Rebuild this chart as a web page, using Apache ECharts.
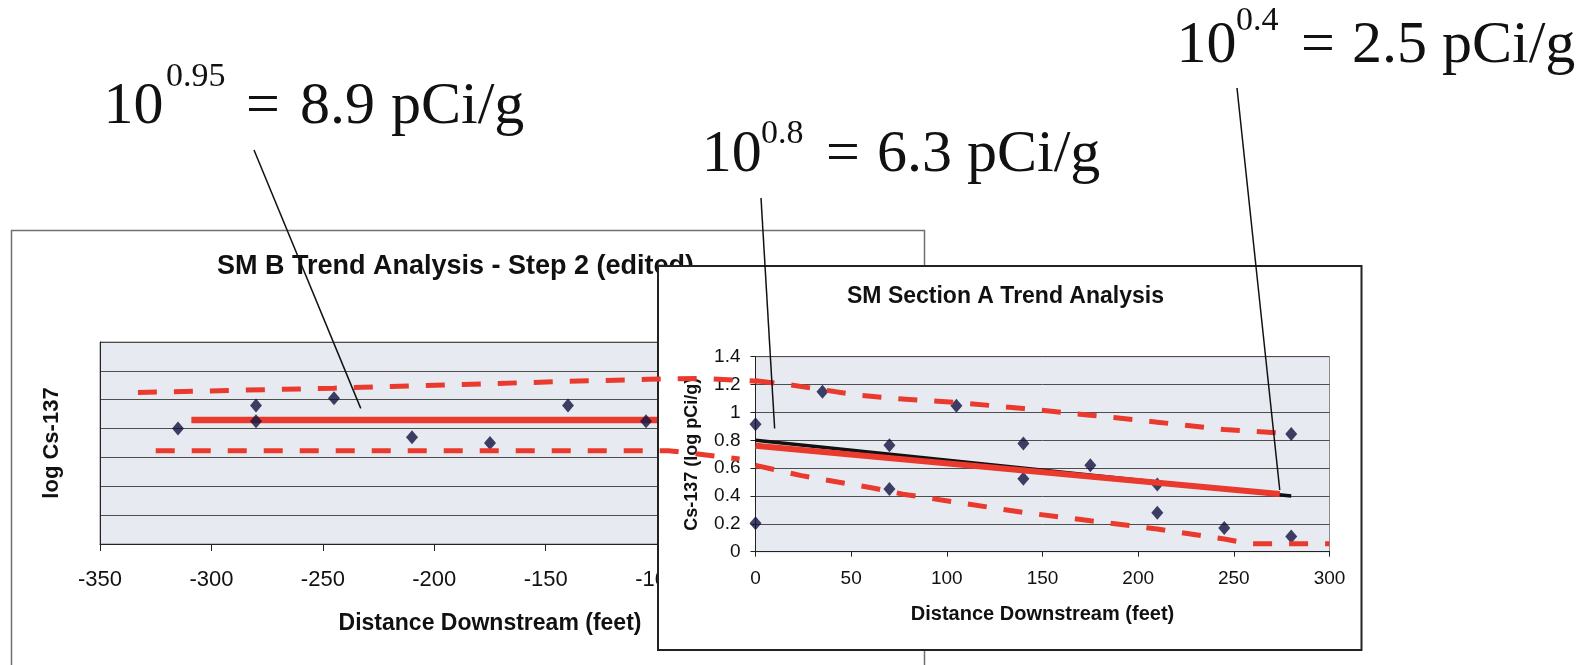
<!DOCTYPE html>
<html><head><meta charset="utf-8">
<script src="https://cdn.jsdelivr.net/npm/echarts@6/dist/echarts.min.js"></script>
<style>html,body{margin:0;padding:0;background:#fff}#c{width:1595px;height:665px}</style>
</head><body><div id="c"></div>
<script>
// ---------- data ----------
const leftTitle = 'SM B Trend Analysis - Step 2 (edited)';
const rightTitle = 'SM Section A Trend Analysis';
const xTitle = 'Distance Downstream (feet)';
const leftYTitle = 'log Cs-137';
const rightYTitle = 'Cs-137 (log pCi/g)';

// SM B (left chart)
const leftX = [-315, -280, -280, -245, -210, -175, -140, -105];
const leftY = [0.80, 0.96, 0.85, 1.01, 0.74, 0.70, 0.96, 0.85];
const leftMeanX = [-309, -80];
const leftMeanY = [0.86, 0.86];
const leftUpperX = [-333, -245, -140, -104, -81, -55];
const leftUpperY = [1.05, 1.08, 1.127, 1.141, 1.148, 1.128];
const leftLowerX = [-325, -95, -63];
const leftLowerY = [0.647, 0.647, 0.59];

// SM Section A (right chart)
const rightX = [0, 0, 35, 70, 70, 105, 140, 140, 175, 210, 210, 245, 280, 280];
const rightY = [0.915, 0.205, 1.148, 0.764, 0.45, 1.047, 0.776, 0.524, 0.62, 0.483, 0.279, 0.17, 0.845, 0.11];
const fitX = [0, 280];
const fitY = [0.80, 0.40];
const trendX = [0, 274];
const trendY = [0.76, 0.415];
const upperX = [0, 17, 35, 53, 73, 105, 140, 175, 210, 245, 258, 280];
const upperY = [1.227, 1.2, 1.163, 1.125, 1.1, 1.072, 1.028, 0.98, 0.93, 0.877, 0.866, 0.848];
const lowerX = [0, 24, 43, 62, 77, 140, 175, 210, 245, 258, 300];
const lowerY = [0.62, 0.546, 0.5, 0.456, 0.413, 0.282, 0.222, 0.163, 0.091, 0.057, 0.057];

// callout texts: base, superscript, then the rest
const annText = [
  ['10', '0.95', '=', '8.9', 'pCi/g'],
  ['10', '0.8', '=', '6.3', 'pCi/g'],
  ['10', '0.4', '=', '2.5', 'pCi/g']
];
// data points the callouts point to: [gridIndex, x, y]
const leaderAnchors = [[0, -233, 0.94], [1, 10, 0.885], [1, 274, 0.443]];

// ---------- style / layout ----------
const SANS = '"Liberation Sans", Arial, sans-serif';
const SERIF = '"Liberation Serif", "Times New Roman", serif';
const RED = '#ea392d';
const NAVY = '#10133f';
const PLOT_BG = '#e7ebf1';
const GRID_LINE = '#4d4d4d';
const INK = '#111';
const annLayout = [
  {base: 126, supBase: 88, xs: [103.5, 166, 246, 300, 391], top: [254, 150]},
  {base: 174, supBase: 145, xs: [701.7, 761, 826, 877, 967], top: [761, 198]},
  {base: 65, supBase: 31.7, xs: [1176.4, 1236, 1301, 1352, 1442], top: [1237, 88]}
];
const zip = (xs, ys) => xs.map((x, i) => [x, ys[i]]);

const chart = echarts.init(document.getElementById('c'), null, {renderer: 'canvas'});

const elements = [
  {type: 'rect', id: 'boxL', silent: true, z: 0,
   shape: {x: 11.5, y: 230.5, width: 913, height: 480},
   style: {fill: '#fff', stroke: '#707070', lineWidth: 1.5}},
  {type: 'rect', id: 'boxR', silent: true, z: 10,
   shape: {x: 658, y: 266, width: 703.5, height: 384},
   style: {fill: '#fff', stroke: '#222', lineWidth: 2}}
];
annText.forEach((tokens, a) => {
  const L = annLayout[a];
  tokens.forEach((t, k) => {
    const size = k === 1 ? 34 : 60;
    const base = k === 1 ? L.supBase : L.base;
    elements.push({
      type: 'text', id: 'ann' + a + '_' + k, silent: true, z: 30,
      style: {text: t, x: L.xs[k], y: base - 0.32 * size,
        font: size + 'px ' + SERIF, fill: '#111',
        align: 'left', textAlign: 'left', verticalAlign: 'middle', textVerticalAlign: 'middle'}
    });
  });
});

const axisText = {fontFamily: SANS, color: INK};
const option = {
  animation: false,
  backgroundColor: '#fff',
  title: [
    {text: leftTitle, left: 217, top: 253, padding: 0, z: 1,
     textStyle: {fontFamily: SANS, fontWeight: 'bold', fontSize: 27, color: INK}},
    {text: rightTitle, left: 847, top: 285, padding: 0, z: 12,
     textStyle: {fontFamily: SANS, fontWeight: 'bold', fontSize: 23, color: INK}}
  ],
  grid: [
    {left: 100, top: 342, width: 780, height: 202, show: true, backgroundColor: PLOT_BG,
     borderColor: '#8a8a8a', borderWidth: 1, z: 1},
    {left: 755.5, top: 356.7, width: 574, height: 195, show: true, backgroundColor: PLOT_BG,
     borderColor: '#8a8a8a', borderWidth: 1, z: 11}
  ],
  xAxis: [
    {type: 'value', gridIndex: 0, min: -350, max: 0, interval: 50, z: 2,
     name: xTitle, nameLocation: 'middle', nameGap: 68,
     nameTextStyle: Object.assign({fontWeight: 'bold', fontSize: 23}, axisText),
     axisLine: {show: true, onZero: false, lineStyle: {color: '#222', width: 1}},
     axisTick: {show: true, length: 7, lineStyle: {color: '#222'}},
     axisLabel: Object.assign({fontSize: 22, margin: 25}, axisText),
     splitLine: {show: false}},
    {type: 'value', gridIndex: 1, min: 0, max: 300, interval: 50, z: 12,
     name: xTitle, nameLocation: 'middle', nameGap: 53,
     nameTextStyle: Object.assign({fontWeight: 'bold', fontSize: 20}, axisText),
     axisLine: {show: true, onZero: false, lineStyle: {color: '#222', width: 1}},
     axisTick: {show: true, length: 5, lineStyle: {color: '#222'}},
     axisLabel: Object.assign({fontSize: 19, margin: 18}, axisText),
     splitLine: {show: false}}
  ],
  yAxis: [
    {type: 'value', gridIndex: 0, min: 0, max: 1.4, interval: 0.2, z: 2,
     name: leftYTitle, nameLocation: 'middle', nameRotate: 90, nameGap: 37,
     nameTextStyle: Object.assign({fontWeight: 'bold', fontSize: 22}, axisText),
     axisLine: {show: true, onZero: false, lineStyle: {color: '#222', width: 1}},
     axisTick: {show: false}, axisLabel: {show: false},
     splitLine: {show: true, lineStyle: {color: GRID_LINE, width: 1}}},
    {type: 'value', gridIndex: 1, min: 0, max: 1.4, interval: 0.2, z: 12,
     name: rightYTitle, nameLocation: 'middle', nameRotate: 90, nameGap: 54.5,
     nameTextStyle: Object.assign({fontWeight: 'bold', fontSize: 18}, axisText),
     axisLine: {show: true, onZero: false, lineStyle: {color: '#222', width: 1}},
     axisTick: {show: true, length: 5, lineStyle: {color: '#222'}},
     axisLabel: Object.assign({fontSize: 19, margin: 15}, axisText),
     splitLine: {show: true, lineStyle: {color: GRID_LINE, width: 1}}}
  ],
  series: [
    {name: 'SM B data', type: 'scatter', xAxisIndex: 0, yAxisIndex: 0, z: 3,
     data: zip(leftX, leftY), symbol: 'diamond', symbolSize: [12, 14],
     itemStyle: {color: NAVY}},
    {name: 'SM B mean', type: 'line', xAxisIndex: 0, yAxisIndex: 0, z: 3,
     data: zip(leftMeanX, leftMeanY), symbol: 'none',
     lineStyle: {color: RED, width: 6.5}},
    {name: 'SM B upper', type: 'line', xAxisIndex: 0, yAxisIndex: 0, z: 20,
     data: zip(leftUpperX, leftUpperY), symbol: 'none',
     lineStyle: {color: RED, width: 5, type: [19, 17], cap: 'butt'}},
    {name: 'SM B lower', type: 'line', xAxisIndex: 0, yAxisIndex: 0, z: 20,
     data: zip(leftLowerX, leftLowerY), symbol: 'none',
     lineStyle: {color: RED, width: 5, type: [19, 17], cap: 'butt'}},
    {name: 'SM A data', type: 'scatter', xAxisIndex: 1, yAxisIndex: 1, z: 13,
     data: zip(rightX, rightY), symbol: 'diamond', symbolSize: [12, 14],
     itemStyle: {color: NAVY}},
    {name: 'SM A fit', type: 'line', xAxisIndex: 1, yAxisIndex: 1, z: 13,
     data: zip(fitX, fitY), symbol: 'none',
     lineStyle: {color: INK, width: 3.5}},
    {name: 'SM A trend', type: 'line', xAxisIndex: 1, yAxisIndex: 1, z: 14,
     data: zip(trendX, trendY), symbol: 'none',
     lineStyle: {color: RED, width: 6}},
    {name: 'SM A upper', type: 'line', xAxisIndex: 1, yAxisIndex: 1, z: 14,
     data: zip(upperX, upperY), symbol: 'none',
     lineStyle: {color: RED, width: 5, type: [19, 17], cap: 'butt'}},
    {name: 'SM A lower', type: 'line', xAxisIndex: 1, yAxisIndex: 1, z: 14,
     data: zip(lowerX, lowerY), symbol: 'none',
     lineStyle: {color: RED, width: 5, type: [19, 17], cap: 'butt'}}
  ],
  graphic: {elements: elements}
};
chart.setOption(option);

// leader lines from each callout down to the value it labels
const leaders = leaderAnchors.map((an, i) => {
  const p = chart.convertToPixel({gridIndex: an[0]}, [an[1], an[2]]);
  const t = annLayout[i].top;
  return {type: 'line', id: 'lead' + i, silent: true, z: 30,
    shape: {x1: t[0], y1: t[1], x2: p[0], y2: p[1]},
    style: {stroke: '#111', lineWidth: 1.5}};
});
chart.setOption({graphic: {elements: leaders}});
</script></body></html>
